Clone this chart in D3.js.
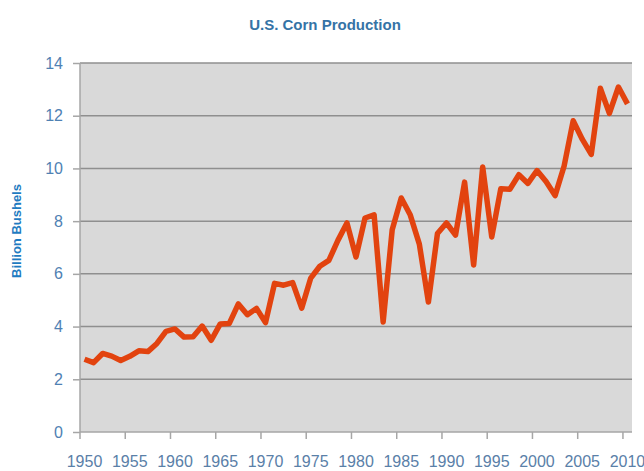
<!DOCTYPE html>
<html>
<head>
<meta charset="utf-8">
<script src="https://cdn.jsdelivr.net/npm/d3@7"></script>
<style>
  html, body { margin: 0; padding: 0; background: #ffffff; }
  svg { display: block; }
</style>
</head>
<body>
<svg id="chart" width="644" height="471"></svg>
<script>
// Data: U.S. corn production, billion bushels
const years = d3.range(1950, 2011);
const production = [
  2.76, 2.63, 2.98, 2.88, 2.71, 2.87, 3.08, 3.05, 3.36, 3.82,
  3.91, 3.60, 3.61, 4.02, 3.48, 4.10, 4.12, 4.86, 4.45, 4.69,
  4.15, 5.64, 5.57, 5.67, 4.70, 5.84, 6.29, 6.51, 7.27, 7.93,
  6.64, 8.12, 8.24, 4.17, 7.67, 8.88, 8.23, 7.13, 4.93, 7.53,
  7.93, 7.47, 9.48, 6.34, 10.05, 7.40, 9.23, 9.21, 9.76, 9.43,
  9.92, 9.50, 8.97, 10.09, 11.81, 11.11, 10.53, 13.04, 12.09, 13.09,
  12.45
];
const yTicks = [0, 2, 4, 6, 8, 10, 12, 14];
const xTickYears = [1950, 1955, 1960, 1965, 1970, 1975, 1980, 1985, 1990, 1995, 2000, 2005, 2010];
const titleText = "U.S. Corn Production";
const yLabelText = "Billion Bushels";

const svg = d3.select("#chart");
const plot = { left: 80, right: 632, top: 63, bottom: 432 };

const x = d3.scaleBand().domain(years).range([plot.left, plot.right]).padding(0);
const y = d3.scaleLinear().domain([0, 14]).range([plot.bottom, plot.top]);
const cx = d => x(d) + x.bandwidth() / 2;

// plot background
svg.append("rect")
  .attr("x", plot.left).attr("y", plot.top)
  .attr("width", plot.right - plot.left).attr("height", plot.bottom - plot.top)
  .attr("fill", "#d9d9d9");

// gridlines
svg.append("g").selectAll("line").data(yTicks.filter(t => t > 0)).join("line")
  .attr("x1", plot.left).attr("x2", plot.right)
  .attr("y1", d => y(d)).attr("y2", d => y(d))
  .attr("stroke", "#8f8f8f").attr("stroke-width", 1.5);

// y axis
const yAxis = d3.axisLeft(y).tickValues(yTicks).tickSize(7).tickPadding(10).tickFormat(d3.format("d"));
const gy = svg.append("g").attr("transform", `translate(${plot.left},0)`).call(yAxis);
gy.select(".domain").attr("stroke", "#a6a6a6").attr("stroke-width", 1.5).attr("d", `M0,${plot.top}V${plot.bottom}`);
gy.selectAll(".tick line").attr("stroke", "#a6a6a6").attr("stroke-width", 1.5);
gy.selectAll(".tick text")
  .attr("fill", "#4f81b3")
  .style("font-family", "'Liberation Sans', Arial, sans-serif")
  .style("font-size", "16px");

// x axis
const gx = svg.append("g").attr("transform", `translate(0,${plot.bottom})`);
gx.append("line").attr("x1", plot.left).attr("x2", plot.right).attr("y1", 0).attr("y2", 0)
  .attr("stroke", "#a6a6a6").attr("stroke-width", 1.5);
gx.selectAll("line.tk").data(xTickYears).join("line").attr("class", "tk")
  .attr("x1", d => x(d)).attr("x2", d => x(d)).attr("y1", 0).attr("y2", 7)
  .attr("stroke", "#a6a6a6").attr("stroke-width", 1.5);
gx.selectAll("text").data(xTickYears).join("text")
  .attr("x", d => cx(d)).attr("y", 35)
  .attr("text-anchor", "middle")
  .attr("fill", "#5a80a8")
  .style("font-family", "'Liberation Sans Narrow', 'Arial Narrow', 'Liberation Sans', sans-serif")
  .style("font-size", "16px")
  .text(d => d);

// line
const line = d3.line().x((d, i) => cx(years[i])).y(d => y(d));
svg.append("path").datum(production)
  .attr("d", line)
  .attr("fill", "none")
  .attr("stroke", "#e2430f")
  .attr("stroke-width", 5.5)
  .attr("stroke-linejoin", "round");

// title
svg.append("text")
  .attr("x", 325).attr("y", 30)
  .attr("text-anchor", "middle")
  .attr("fill", "#3573a6")
  .style("font-family", "'Liberation Sans', Arial, sans-serif")
  .style("font-weight", "bold")
  .style("font-size", "15px")
  .text(titleText);

// y label
svg.append("text")
  .attr("transform", "translate(21,231) rotate(-90)")
  .attr("text-anchor", "middle")
  .attr("fill", "#1f7bc1")
  .style("font-family", "'Liberation Sans', Arial, sans-serif")
  .style("font-weight", "bold")
  .style("font-size", "13px")
  .text(yLabelText);
</script>
</body>
</html>
